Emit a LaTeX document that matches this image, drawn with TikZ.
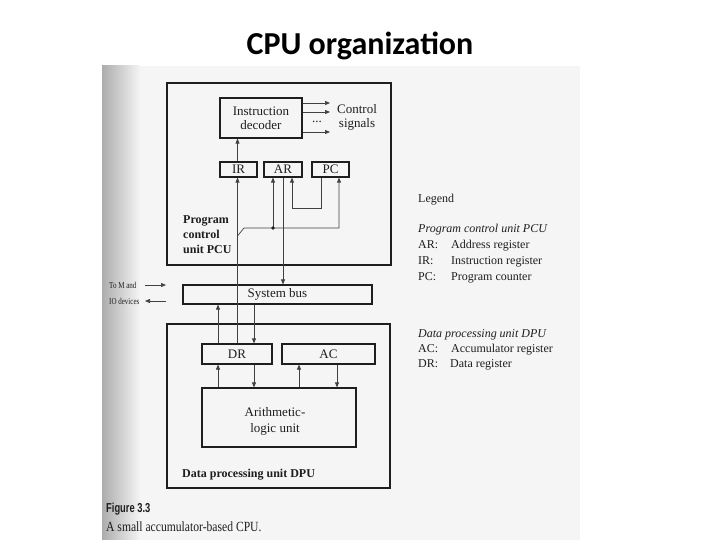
\documentclass[tikz,border=0pt]{standalone}
\usepackage{graphicx}
\usepackage{fontspec}
\setmainfont{Liberation Serif}
\newfontfamily\titlefont{Carlito}
\newfontfamily\capsans{Liberation Sans}
\usetikzlibrary{arrows.meta}
\definecolor{ink}{RGB}{30,30,30}
\definecolor{paper}{RGB}{245,245,245}
\begin{document}
\begin{tikzpicture}[x=1pt,y=-1pt,
  box/.style={draw=ink, line width=1.2pt, inner sep=0pt, text=ink, font=\fontsize{13}{14}\selectfont},
  conn/.style={draw=ink!85, line width=0.7pt},
  arr/.style={conn, -{Triangle[length=5pt,width=4pt]}},
  lbl/.style={inner sep=0pt, anchor=base west, text=ink, font=\fontsize{12}{13}\selectfont},
  blbl/.style={lbl, font=\bfseries\fontsize{12}{13}\selectfont},
  ilbl/.style={lbl, font=\itshape\fontsize{12}{13}\selectfont}]

\useasboundingbox (0,0) rectangle (720,540);
\fill[white] (0,0) rectangle (720,540);
\fill[paper] (102,66) rectangle (580,540);
\shade[left color=gray!65, right color=paper] (102,66) rectangle (140,540);

% title
\node[font=\titlefont\bfseries\fontsize{32}{34}\selectfont, text=black] (title) at (360,46) {CPU organization};

% PCU
\node[box, minimum width=224pt, minimum height=182pt] (pcu) at (279,174) {};
\node[box, minimum width=82pt, minimum height=40pt, align=center] (dec) at (261,118) {Instruction\\decoder};
\node[box, minimum width=37pt, minimum height=15pt] (ir) at (238.5,169.5) {IR};
\node[box, minimum width=38pt, minimum height=15pt] (ar) at (283,169.5) {AR};
\node[box, minimum width=37pt, minimum height=15pt] (pc) at (330.5,169.5) {PC};
\node[inner sep=0pt, align=center, text=ink, font=\fontsize{13}{14}\selectfont] (cs) at (357,117) {Control\\signals};
\node[inner sep=0pt, anchor=base, text=ink, font=\fontsize{13}{14}\selectfont] (dots) at (317,123) {...};
\node[blbl] (pcu1) at (183,224) {Program};
\node[blbl] (pcu2) at (183,239) {control};
\node[blbl] (pcu3) at (183,254) {unit PCU};

% bus
\node[box, minimum width=189pt, minimum height=19pt] (bus) at (277.5,294.5) {System bus};
\node[inner sep=0pt, anchor=west, text=ink, font=\fontsize{9}{10}\selectfont] (tm1) at (109,285) {\scalebox{0.78}[1]{To M and}};
\node[inner sep=0pt, anchor=west, text=ink, font=\fontsize{9}{10}\selectfont] (tm2) at (109,301) {\scalebox{0.78}[1]{IO devices}};
\coordinate (tma) at (145,285);
\coordinate (tmb) at (166,285);
\coordinate (tmc) at (166,301);
\coordinate (tmd) at (145,301);

% DPU
\node[box, minimum width=223pt, minimum height=164pt] (dpu) at (278.5,406) {};
\node[box, minimum width=70pt, minimum height=20pt] (dr) at (237,354) {DR};
\node[box, minimum width=93pt, minimum height=20pt] (ac) at (328.5,354) {AC};
\node[box, minimum width=154pt, minimum height=59pt] (alu) at (279,417.5) {};
\node[inner sep=0pt, align=center, text=ink, font=\fontsize{13}{16}\selectfont] (alut) at (275,421) {Arithmetic-\\logic unit};
\node[blbl] (dput) at (182,477) {Data processing unit DPU};

% legend
\node[lbl] (lg) at (418,203) {Legend};
\node[ilbl] (lg1) at (418,233) {Program control unit PCU};
\node[lbl] (lg2) at (418,248) {\makebox[33pt][l]{AR:}Address register};
\node[lbl] (lg3) at (418,264) {\makebox[33pt][l]{IR:}Instruction register};
\node[lbl] (lg4) at (418,280) {\makebox[33pt][l]{PC:}Program counter};
\node[ilbl] (lg5) at (418,337) {Data processing unit DPU};
\node[lbl] (lg6) at (418,352) {\makebox[33pt][l]{AC:}Accumulator register};
\node[lbl] (lg7) at (418,367) {\makebox[32pt][l]{DR:}Data register};

% caption
\node[lbl, font=\capsans\bfseries\fontsize{13}{14}\selectfont] (fig) at (106,512) {\scalebox{0.72}[1]{Figure 3.3}};
\node[lbl, font=\fontsize{14}{15}\selectfont] (cap) at (106,531) {\scalebox{0.83}[1]{A small accumulator-based CPU.}};

% coordinates for connectors
\coordinate (xa) at (237.5,0);
\coordinate (cs1) at (330,103);
\coordinate (cs2) at (330,112);
\coordinate (cs3) at (330,132);
\coordinate (br) at (237.5,236);
\coordinate (brk) at (244,228);
\coordinate (dot) at (273,228);
\coordinate (xpc) at (339,0);
\coordinate (pcd) at (321,208);
\coordinate (xarin) at (292,0);
\coordinate (xdup) at (218,0);
\coordinate (xddn) at (254,0);
\coordinate (xaup) at (299,0);
\coordinate (xadn) at (337,0);

% decoder
\draw[arr] (ir.north -| xa) -- (dec.south -| xa);
\draw[arr] (dec.east |- cs1) -- (cs1);
\draw[arr] (dec.east |- cs2) -- (cs2);
\draw[arr] (dec.east |- cs3) -- (cs3);

% data line from DR to IR, AR, PC
\draw[arr] (dr.north -| xa) -- (ir.south -| xa);
\draw[arr] (br) -- (brk) -| (pc.south -| xpc);
\draw[arr] (dot) -- (ar.south -| dot);
\fill[ink] (dot) circle (1.8pt);
\draw[arr] (ar.south) -- (bus.north -| ar.south);
\draw[arr] (pc.south -| pcd) -- (pcd) -| (ar.south -| xarin);

% bus <-> DR
\draw[arr] (dr.north -| xdup) -- (bus.south -| xdup);
\draw[arr] (bus.south -| xddn) -- (dr.north -| xddn);

% ALU <-> DR, AC
\draw[arr] (alu.north -| xdup) -- (dr.south -| xdup);
\draw[arr] (dr.south -| xddn) -- (alu.north -| xddn);
\draw[arr] (alu.north -| xaup) -- (ac.south -| xaup);
\draw[arr] (ac.south -| xadn) -- (alu.north -| xadn);

% external
\draw[arr] (tma) -- (tmb);
\draw[arr] (tmc) -- (tmd);
\end{tikzpicture}
\end{document}
